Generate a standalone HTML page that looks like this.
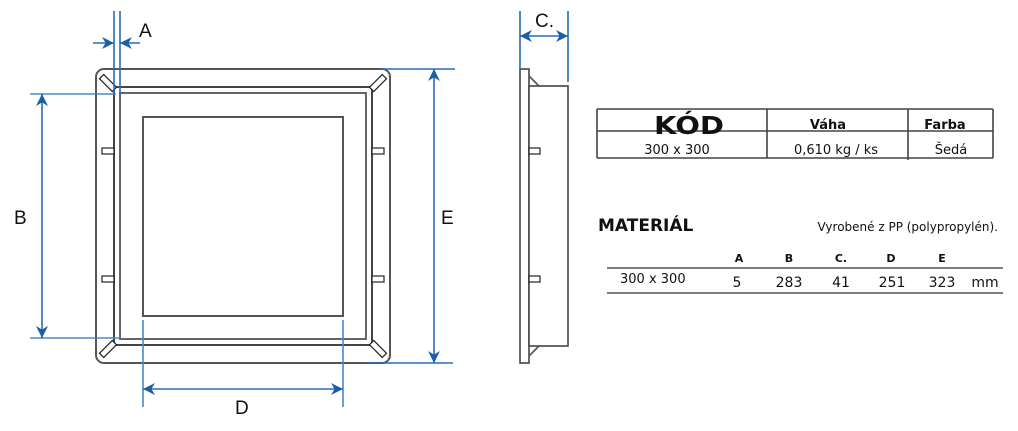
<!DOCTYPE html>
<html><head><meta charset="utf-8"><style>
body{margin:0;background:#fff;width:1018px;height:431px;overflow:hidden;font-family:"Liberation Sans","DejaVu Sans",sans-serif}
svg{position:absolute;left:0;top:0}
</style></head><body>
<svg width="1018" height="431" viewBox="0 0 1018 431" xmlns="http://www.w3.org/2000/svg">
<defs>
<marker id="ar" viewBox="0 0 10 10" refX="10" refY="5" markerWidth="14" markerHeight="12" orient="auto-start-reverse" markerUnits="userSpaceOnUse"><path d="M0,0 L10,5 L0,10 L3,5 Z" fill="#1a5ea8"/></marker>
</defs>
<g fill="none" stroke="#555" stroke-width="2">
<rect x="96" y="69" width="294" height="294" rx="8"/>
<rect x="114" y="87" width="258" height="258" stroke="#444"/>
<rect x="120" y="93" width="246" height="246" stroke="#666"/>
<rect x="143" y="117" width="200" height="199" stroke="#555"/>
</g>
<g fill="#fff" stroke="#222" stroke-width="1.2">
<rect x="102" y="148" width="12" height="6"/><rect x="102" y="276" width="12" height="6"/>
<rect x="372" y="148" width="12" height="6"/><rect x="372" y="276" width="12" height="6"/>
<rect x="-3" y="-9" width="6" height="18" transform="translate(108,83) rotate(-45)"/>
<rect x="-3" y="-9" width="6" height="18" transform="translate(378,83) rotate(45)"/>
<rect x="-3" y="-9" width="6" height="18" transform="translate(108,349) rotate(45)"/>
<rect x="-3" y="-9" width="6" height="18" transform="translate(378,349) rotate(-45)"/>
</g>
<!-- side view -->
<g fill="#fff" stroke="#444" stroke-width="1.6">
<rect x="520" y="69" width="9" height="294"/>
<rect x="529" y="86" width="39" height="260"/>
<path d="M529,76 L539,86 M529,356 L539,346" stroke="#555"/>
<rect x="529" y="148" width="11" height="6" stroke="#222" stroke-width="1.2"/>
<rect x="529" y="276" width="11" height="6" stroke="#222" stroke-width="1.2"/>
</g>
<!-- dimensions -->
<g stroke="#2a6db5" stroke-width="1.6" fill="none">
<path d="M114,11 V93 M120,11 V93"/>
<path d="M93,43 H114" marker-end="url(#ar)"/><path d="M140,43 H120" marker-end="url(#ar)"/>
<path d="M30,94 H116 M30,338 H120" stroke="#4a88c7"/>
<path d="M42,94 V338" marker-start="url(#ar)" marker-end="url(#ar)"/>
<path d="M380,69 H455 M366,363 H453"/>
<path d="M434,69 V363" marker-start="url(#ar)" marker-end="url(#ar)"/>
<path d="M143,320 V407 M343,320 V407" stroke="#4a88c7"/>
<path d="M143,389 H343" marker-start="url(#ar)" marker-end="url(#ar)"/>
<path d="M520,11 V69 M568,11 V82"/>
<path d="M520,36 H568" marker-start="url(#ar)" marker-end="url(#ar)"/>
</g>
<g font-size="19" fill="#111">
<text x="139" y="37">A</text>
<text x="14" y="224">B</text>
<text x="441" y="224">E</text>
<text x="235" y="414">D</text>
<text x="535" y="27">C.</text>
</g>
<!-- table -->
<g stroke="#444" stroke-width="1.6">
<path d="M597,109 H993 M597,131 H993 M597,158 H993 M597,109 V131 M597,131 V158 M767,109 V158 M908,109 V160 M993,109 V158"/>
<path d="M607,268 H1003 M607,293 H1003" stroke="#555"/>
</g>
<g fill="#111" font-family="'DejaVu Sans','Liberation Sans',sans-serif">
<text x="689" y="134" font-size="25" font-weight="bold" text-anchor="middle" textLength="70" lengthAdjust="spacingAndGlyphs">KÓD</text>
<text x="828" y="129" font-size="13" font-weight="bold" text-anchor="middle">Váha</text>
<text x="945" y="129" font-size="13" font-weight="bold" text-anchor="middle">Farba</text>
<text x="677" y="154" font-size="13" text-anchor="middle">300 x 300</text>
<text x="836" y="154" font-size="13" text-anchor="middle">0,610 kg / ks</text>
<text x="951" y="154" font-size="13" text-anchor="middle">Šedá</text>
<text x="598" y="231" font-size="17" font-weight="bold">MATERIÁL</text>
<text x="998" y="231" font-size="12" text-anchor="end">Vyrobené z PP (polypropylén).</text>
<g font-size="11" font-weight="bold" text-anchor="middle">
<text x="739" y="262">A</text><text x="789" y="262">B</text><text x="841" y="262">C.</text><text x="891" y="262">D</text><text x="942" y="262">E</text>
</g>
<text x="620" y="283" font-size="13">300 x 300</text>
<g font-size="14" text-anchor="middle">
<text x="737" y="287">5</text><text x="789" y="287">283</text><text x="841" y="287">41</text><text x="892" y="287">251</text><text x="942" y="287">323</text><text x="985" y="287">mm</text>
</g>
</g>
</svg>
</body></html>
